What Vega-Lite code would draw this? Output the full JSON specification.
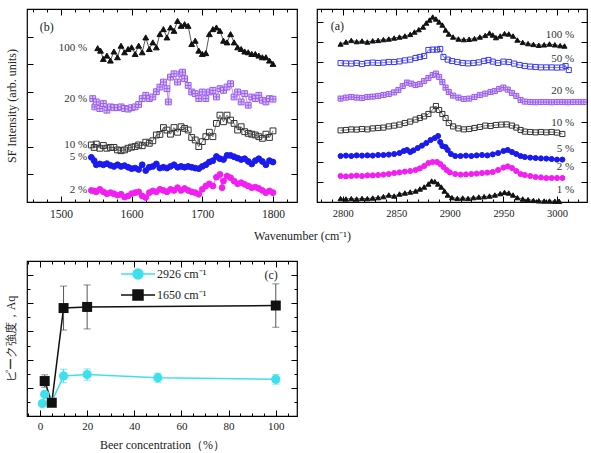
{
"$schema":"https://vega.github.io/schema/vega-lite/v6.json",
"padding":{"left":3,"top":7,"right":3,"bottom":5},
"background":"white",
"config":{"view":{"stroke":"black","strokeWidth":1.2},"font":"Liberation Serif",
"axis":{"domain":false,"grid":false,"tickColor":"black","tickWidth":1,"labelFont":"Liberation Serif","titleFont":"Liberation Serif","labelColor":"#222","titleColor":"#222","titleFontWeight":"normal","labelFontSize":11,"titleFontSize":12,"labelOverlap":false},
"text":{"font":"Liberation Serif","color":"#333","fontSize":11},
"legend":{"labelFont":"Liberation Serif"}},
"columns":2,
"spacing":{"row":59,"column":20},
"bounds":"flush",
"resolve":{"scale":{"color":"independent"},"legend":{"color":"independent"}},
"datasets":{
"specB":[
{"s":"100 %","x":1552,"y":5.58},{"s":"100 %","x":1556,"y":5.49},{"s":"100 %","x":1560,"y":5.19},{"s":"100 %","x":1565,"y":5.31},{"s":"100 %","x":1570,"y":5.13},{"s":"100 %","x":1575,"y":5.46},{"s":"100 %","x":1580,"y":5.25},{"s":"100 %","x":1585,"y":5.67},{"s":"100 %","x":1590,"y":5.43},{"s":"100 %","x":1595,"y":5.55},{"s":"100 %","x":1600,"y":5.61},{"s":"100 %","x":1605,"y":5.37},{"s":"100 %","x":1610,"y":5.67},{"s":"100 %","x":1615,"y":5.43},{"s":"100 %","x":1620,"y":5.97},{"s":"100 %","x":1625,"y":5.55},{"s":"100 %","x":1630,"y":5.79},{"s":"100 %","x":1635,"y":5.61},{"s":"100 %","x":1640,"y":6.09},{"s":"100 %","x":1645,"y":6.27},{"s":"100 %","x":1650,"y":5.97},{"s":"100 %","x":1655,"y":6.33},{"s":"100 %","x":1660,"y":6.21},{"s":"100 %","x":1665,"y":6.57},{"s":"100 %","x":1670,"y":6.39},{"s":"100 %","x":1675,"y":6.45},{"s":"100 %","x":1680,"y":6.39},{"s":"100 %","x":1685,"y":5.73},{"s":"100 %","x":1690,"y":5.85},{"s":"100 %","x":1695,"y":5.49},{"s":"100 %","x":1700,"y":5.37},{"s":"100 %","x":1705,"y":5.4},{"s":"100 %","x":1710,"y":6.09},{"s":"100 %","x":1715,"y":6.27},{"s":"100 %","x":1720,"y":6.33},{"s":"100 %","x":1725,"y":6.21},{"s":"100 %","x":1730,"y":5.85},{"s":"100 %","x":1735,"y":5.79},{"s":"100 %","x":1740,"y":6.09},{"s":"100 %","x":1745,"y":5.79},{"s":"100 %","x":1750,"y":5.61},{"s":"100 %","x":1755,"y":5.55},{"s":"100 %","x":1760,"y":5.46},{"s":"100 %","x":1765,"y":5.43},{"s":"100 %","x":1770,"y":5.37},{"s":"100 %","x":1775,"y":5.37},{"s":"100 %","x":1780,"y":5.31},{"s":"100 %","x":1785,"y":5.25},{"s":"100 %","x":1790,"y":5.25},{"s":"100 %","x":1795,"y":5.13},{"s":"100 %","x":1800,"y":5.01},
{"s":"20 %","x":1545,"y":3.75},{"s":"20 %","x":1548,"y":3.45},{"s":"20 %","x":1550,"y":3.63},{"s":"20 %","x":1555,"y":3.39},{"s":"20 %","x":1560,"y":3.57},{"s":"20 %","x":1565,"y":3.33},{"s":"20 %","x":1570,"y":3.45},{"s":"20 %","x":1575,"y":3.42},{"s":"20 %","x":1580,"y":3.42},{"s":"20 %","x":1585,"y":3.45},{"s":"20 %","x":1590,"y":3.39},{"s":"20 %","x":1595,"y":3.37},{"s":"20 %","x":1600,"y":3.42},{"s":"20 %","x":1605,"y":3.45},{"s":"20 %","x":1610,"y":3.54},{"s":"20 %","x":1615,"y":3.75},{"s":"20 %","x":1620,"y":3.87},{"s":"20 %","x":1625,"y":3.75},{"s":"20 %","x":1630,"y":3.81},{"s":"20 %","x":1635,"y":4.0},{"s":"20 %","x":1640,"y":4.17},{"s":"20 %","x":1645,"y":4.35},{"s":"20 %","x":1650,"y":4.11},{"s":"20 %","x":1652,"y":3.63},{"s":"20 %","x":1655,"y":4.53},{"s":"20 %","x":1660,"y":4.65},{"s":"20 %","x":1665,"y":4.35},{"s":"20 %","x":1670,"y":4.65},{"s":"20 %","x":1672,"y":4.71},{"s":"20 %","x":1675,"y":4.47},{"s":"20 %","x":1680,"y":4.23},{"s":"20 %","x":1685,"y":3.99},{"s":"20 %","x":1690,"y":3.93},{"s":"20 %","x":1695,"y":3.75},{"s":"20 %","x":1700,"y":3.99},{"s":"20 %","x":1705,"y":3.75},{"s":"20 %","x":1710,"y":3.99},{"s":"20 %","x":1715,"y":4.05},{"s":"20 %","x":1720,"y":3.81},{"s":"20 %","x":1725,"y":4.11},{"s":"20 %","x":1730,"y":4.05},{"s":"20 %","x":1735,"y":4.17},{"s":"20 %","x":1740,"y":4.29},{"s":"20 %","x":1745,"y":3.81},{"s":"20 %","x":1750,"y":3.99},{"s":"20 %","x":1755,"y":3.63},{"s":"20 %","x":1760,"y":3.93},{"s":"20 %","x":1765,"y":3.51},{"s":"20 %","x":1770,"y":3.81},{"s":"20 %","x":1775,"y":3.75},{"s":"20 %","x":1780,"y":3.87},{"s":"20 %","x":1785,"y":3.69},{"s":"20 %","x":1790,"y":3.63},{"s":"20 %","x":1795,"y":3.75},{"s":"20 %","x":1800,"y":3.73},
{"s":"10 %","x":1543,"y":2.07},{"s":"10 %","x":1547,"y":1.98},{"s":"10 %","x":1550,"y":2.1},{"s":"10 %","x":1555,"y":1.95},{"s":"10 %","x":1560,"y":2.05},{"s":"10 %","x":1565,"y":1.95},{"s":"10 %","x":1570,"y":1.98},{"s":"10 %","x":1575,"y":1.98},{"s":"10 %","x":1580,"y":1.89},{"s":"10 %","x":1585,"y":1.86},{"s":"10 %","x":1590,"y":1.89},{"s":"10 %","x":1595,"y":1.95},{"s":"10 %","x":1600,"y":1.99},{"s":"10 %","x":1605,"y":2.01},{"s":"10 %","x":1610,"y":2.07},{"s":"10 %","x":1615,"y":2.04},{"s":"10 %","x":1620,"y":2.17},{"s":"10 %","x":1625,"y":2.13},{"s":"10 %","x":1630,"y":2.22},{"s":"10 %","x":1635,"y":2.43},{"s":"10 %","x":1640,"y":2.45},{"s":"10 %","x":1645,"y":2.7},{"s":"10 %","x":1650,"y":2.61},{"s":"10 %","x":1655,"y":2.46},{"s":"10 %","x":1660,"y":2.7},{"s":"10 %","x":1665,"y":2.53},{"s":"10 %","x":1670,"y":2.73},{"s":"10 %","x":1675,"y":2.67},{"s":"10 %","x":1680,"y":2.61},{"s":"10 %","x":1685,"y":2.34},{"s":"10 %","x":1690,"y":2.25},{"s":"10 %","x":1695,"y":2.01},{"s":"10 %","x":1700,"y":2.19},{"s":"10 %","x":1705,"y":2.37},{"s":"10 %","x":1710,"y":2.53},{"s":"10 %","x":1715,"y":2.37},{"s":"10 %","x":1720,"y":2.85},{"s":"10 %","x":1725,"y":3.15},{"s":"10 %","x":1730,"y":2.91},{"s":"10 %","x":1735,"y":3.15},{"s":"10 %","x":1740,"y":2.97},{"s":"10 %","x":1745,"y":2.85},{"s":"10 %","x":1750,"y":2.61},{"s":"10 %","x":1755,"y":2.73},{"s":"10 %","x":1760,"y":2.55},{"s":"10 %","x":1765,"y":2.49},{"s":"10 %","x":1770,"y":2.46},{"s":"10 %","x":1775,"y":2.43},{"s":"10 %","x":1780,"y":2.37},{"s":"10 %","x":1785,"y":2.31},{"s":"10 %","x":1790,"y":2.46},{"s":"10 %","x":1795,"y":2.34},{"s":"10 %","x":1800,"y":2.58},
{"s":"5 %","x":1543,"y":1.62},{"s":"5 %","x":1547,"y":1.5},{"s":"5 %","x":1550,"y":1.35},{"s":"5 %","x":1555,"y":1.38},{"s":"5 %","x":1560,"y":1.35},{"s":"5 %","x":1565,"y":1.39},{"s":"5 %","x":1570,"y":1.33},{"s":"5 %","x":1575,"y":1.29},{"s":"5 %","x":1580,"y":1.35},{"s":"5 %","x":1585,"y":1.29},{"s":"5 %","x":1590,"y":1.32},{"s":"5 %","x":1595,"y":1.26},{"s":"5 %","x":1600,"y":1.21},{"s":"5 %","x":1605,"y":1.23},{"s":"5 %","x":1610,"y":1.18},{"s":"5 %","x":1615,"y":1.35},{"s":"5 %","x":1620,"y":1.14},{"s":"5 %","x":1625,"y":1.26},{"s":"5 %","x":1630,"y":1.29},{"s":"5 %","x":1635,"y":1.38},{"s":"5 %","x":1640,"y":1.23},{"s":"5 %","x":1645,"y":1.26},{"s":"5 %","x":1650,"y":1.23},{"s":"5 %","x":1655,"y":1.29},{"s":"5 %","x":1660,"y":1.35},{"s":"5 %","x":1665,"y":1.26},{"s":"5 %","x":1670,"y":1.29},{"s":"5 %","x":1675,"y":1.26},{"s":"5 %","x":1680,"y":1.29},{"s":"5 %","x":1685,"y":1.26},{"s":"5 %","x":1690,"y":1.23},{"s":"5 %","x":1695,"y":1.21},{"s":"5 %","x":1700,"y":1.29},{"s":"5 %","x":1705,"y":1.35},{"s":"5 %","x":1710,"y":1.45},{"s":"5 %","x":1715,"y":1.5},{"s":"5 %","x":1720,"y":1.65},{"s":"5 %","x":1725,"y":1.57},{"s":"5 %","x":1730,"y":1.54},{"s":"5 %","x":1735,"y":1.69},{"s":"5 %","x":1740,"y":1.69},{"s":"5 %","x":1745,"y":1.64},{"s":"5 %","x":1750,"y":1.59},{"s":"5 %","x":1755,"y":1.54},{"s":"5 %","x":1760,"y":1.57},{"s":"5 %","x":1765,"y":1.47},{"s":"5 %","x":1770,"y":1.38},{"s":"5 %","x":1775,"y":1.5},{"s":"5 %","x":1780,"y":1.57},{"s":"5 %","x":1785,"y":1.47},{"s":"5 %","x":1790,"y":1.35},{"s":"5 %","x":1795,"y":1.5},{"s":"5 %","x":1800,"y":1.45},
{"s":"2 %","x":1543,"y":0.42},{"s":"2 %","x":1547,"y":0.4},{"s":"2 %","x":1550,"y":0.37},{"s":"2 %","x":1555,"y":0.46},{"s":"2 %","x":1560,"y":0.37},{"s":"2 %","x":1565,"y":0.3},{"s":"2 %","x":1570,"y":0.34},{"s":"2 %","x":1575,"y":0.3},{"s":"2 %","x":1580,"y":0.25},{"s":"2 %","x":1585,"y":0.28},{"s":"2 %","x":1590,"y":0.18},{"s":"2 %","x":1595,"y":0.22},{"s":"2 %","x":1600,"y":0.3},{"s":"2 %","x":1605,"y":0.34},{"s":"2 %","x":1610,"y":0.37},{"s":"2 %","x":1615,"y":0.22},{"s":"2 %","x":1620,"y":0.16},{"s":"2 %","x":1625,"y":0.34},{"s":"2 %","x":1630,"y":0.4},{"s":"2 %","x":1635,"y":0.37},{"s":"2 %","x":1640,"y":0.46},{"s":"2 %","x":1645,"y":0.42},{"s":"2 %","x":1650,"y":0.37},{"s":"2 %","x":1655,"y":0.46},{"s":"2 %","x":1660,"y":0.42},{"s":"2 %","x":1665,"y":0.52},{"s":"2 %","x":1670,"y":0.42},{"s":"2 %","x":1675,"y":0.49},{"s":"2 %","x":1680,"y":0.42},{"s":"2 %","x":1685,"y":0.37},{"s":"2 %","x":1690,"y":0.34},{"s":"2 %","x":1695,"y":0.28},{"s":"2 %","x":1700,"y":0.46},{"s":"2 %","x":1705,"y":0.58},{"s":"2 %","x":1710,"y":0.66},{"s":"2 %","x":1715,"y":0.58},{"s":"2 %","x":1720,"y":0.9},{"s":"2 %","x":1725,"y":1.0},{"s":"2 %","x":1728,"y":0.52},{"s":"2 %","x":1730,"y":0.76},{"s":"2 %","x":1735,"y":0.94},{"s":"2 %","x":1740,"y":0.88},{"s":"2 %","x":1745,"y":0.76},{"s":"2 %","x":1750,"y":0.66},{"s":"2 %","x":1755,"y":0.7},{"s":"2 %","x":1760,"y":0.64},{"s":"2 %","x":1765,"y":0.58},{"s":"2 %","x":1770,"y":0.52},{"s":"2 %","x":1775,"y":0.54},{"s":"2 %","x":1780,"y":0.49},{"s":"2 %","x":1785,"y":0.42},{"s":"2 %","x":1790,"y":0.34},{"s":"2 %","x":1795,"y":0.4},{"s":"2 %","x":1800,"y":0.34}
],
"specA":[
{"s":"100 %","x":2798,"y":7.9},{"s":"100 %","x":2803,"y":8.0},{"s":"100 %","x":2808,"y":8.08},{"s":"100 %","x":2813,"y":8.02},{"s":"100 %","x":2818,"y":8.05},{"s":"100 %","x":2823,"y":8.0},{"s":"100 %","x":2828,"y":8.06},{"s":"100 %","x":2833,"y":8.08},{"s":"100 %","x":2838,"y":8.12},{"s":"100 %","x":2843,"y":8.15},{"s":"100 %","x":2848,"y":8.2},{"s":"100 %","x":2853,"y":8.25},{"s":"100 %","x":2858,"y":8.3},{"s":"100 %","x":2863,"y":8.38},{"s":"100 %","x":2867,"y":8.5},{"s":"100 %","x":2871,"y":8.62},{"s":"100 %","x":2875,"y":8.75},{"s":"100 %","x":2878,"y":8.95},{"s":"100 %","x":2881,"y":9.1},{"s":"100 %","x":2884,"y":9.25},{"s":"100 %","x":2887,"y":9.15},{"s":"100 %","x":2890,"y":9.0},{"s":"100 %","x":2893,"y":8.85},{"s":"100 %","x":2896,"y":8.6},{"s":"100 %","x":2899,"y":8.4},{"s":"100 %","x":2903,"y":8.25},{"s":"100 %","x":2908,"y":8.15},{"s":"100 %","x":2913,"y":8.12},{"s":"100 %","x":2918,"y":8.14},{"s":"100 %","x":2923,"y":8.17},{"s":"100 %","x":2928,"y":8.25},{"s":"100 %","x":2933,"y":8.33},{"s":"100 %","x":2937,"y":8.45},{"s":"100 %","x":2940,"y":8.35},{"s":"100 %","x":2943,"y":8.22},{"s":"100 %","x":2947,"y":8.3},{"s":"100 %","x":2951,"y":8.42},{"s":"100 %","x":2955,"y":8.4},{"s":"100 %","x":2959,"y":8.3},{"s":"100 %","x":2963,"y":8.1},{"s":"100 %","x":2968,"y":7.98},{"s":"100 %","x":2973,"y":7.92},{"s":"100 %","x":2978,"y":7.88},{"s":"100 %","x":2983,"y":7.84},{"s":"100 %","x":2988,"y":7.86},{"s":"100 %","x":2993,"y":7.9},{"s":"100 %","x":2998,"y":7.86},{"s":"100 %","x":3003,"y":7.82},{"s":"100 %","x":3007,"y":7.8},
{"s":"50 %","x":2798,"y":6.95},{"s":"50 %","x":2803,"y":6.93},{"s":"50 %","x":2808,"y":6.92},{"s":"50 %","x":2813,"y":6.95},{"s":"50 %","x":2818,"y":6.9},{"s":"50 %","x":2823,"y":6.95},{"s":"50 %","x":2828,"y":6.97},{"s":"50 %","x":2833,"y":6.95},{"s":"50 %","x":2838,"y":6.97},{"s":"50 %","x":2843,"y":7.0},{"s":"50 %","x":2848,"y":7.0},{"s":"50 %","x":2853,"y":7.03},{"s":"50 %","x":2858,"y":7.08},{"s":"50 %","x":2863,"y":7.12},{"s":"50 %","x":2868,"y":7.2},{"s":"50 %","x":2872,"y":7.25},{"s":"50 %","x":2876,"y":7.3},{"s":"50 %","x":2880,"y":7.6},{"s":"50 %","x":2884,"y":7.62},{"s":"50 %","x":2888,"y":7.62},{"s":"50 %","x":2891,"y":7.65},{"s":"50 %","x":2894,"y":7.25},{"s":"50 %","x":2898,"y":7.12},{"s":"50 %","x":2902,"y":7.05},{"s":"50 %","x":2907,"y":7.0},{"s":"50 %","x":2912,"y":6.95},{"s":"50 %","x":2917,"y":6.93},{"s":"50 %","x":2922,"y":6.95},{"s":"50 %","x":2927,"y":6.98},{"s":"50 %","x":2932,"y":7.05},{"s":"50 %","x":2936,"y":7.1},{"s":"50 %","x":2940,"y":7.02},{"s":"50 %","x":2945,"y":6.95},{"s":"50 %","x":2950,"y":7.02},{"s":"50 %","x":2955,"y":7.0},{"s":"50 %","x":2960,"y":6.92},{"s":"50 %","x":2965,"y":6.85},{"s":"50 %","x":2970,"y":6.8},{"s":"50 %","x":2975,"y":6.77},{"s":"50 %","x":2980,"y":6.75},{"s":"50 %","x":2985,"y":6.73},{"s":"50 %","x":2990,"y":6.73},{"s":"50 %","x":2995,"y":6.73},{"s":"50 %","x":3000,"y":6.72},{"s":"50 %","x":3005,"y":6.73},{"s":"50 %","x":3008,"y":6.8},{"s":"50 %","x":3011,"y":6.6},
{"s":"20 %","x":2798,"y":5.17},{"s":"20 %","x":2803,"y":5.22},{"s":"20 %","x":2808,"y":5.25},{"s":"20 %","x":2813,"y":5.22},{"s":"20 %","x":2818,"y":5.2},{"s":"20 %","x":2823,"y":5.25},{"s":"20 %","x":2828,"y":5.27},{"s":"20 %","x":2833,"y":5.3},{"s":"20 %","x":2838,"y":5.35},{"s":"20 %","x":2843,"y":5.4},{"s":"20 %","x":2848,"y":5.48},{"s":"20 %","x":2852,"y":5.6},{"s":"20 %","x":2856,"y":5.8},{"s":"20 %","x":2860,"y":5.97},{"s":"20 %","x":2864,"y":5.92},{"s":"20 %","x":2868,"y":5.85},{"s":"20 %","x":2872,"y":5.9},{"s":"20 %","x":2876,"y":6.05},{"s":"20 %","x":2880,"y":6.2},{"s":"20 %","x":2884,"y":6.35},{"s":"20 %","x":2887,"y":6.42},{"s":"20 %","x":2890,"y":6.25},{"s":"20 %","x":2893,"y":6.0},{"s":"20 %","x":2896,"y":5.72},{"s":"20 %","x":2899,"y":5.5},{"s":"20 %","x":2903,"y":5.32},{"s":"20 %","x":2908,"y":5.22},{"s":"20 %","x":2913,"y":5.15},{"s":"20 %","x":2918,"y":5.17},{"s":"20 %","x":2923,"y":5.25},{"s":"20 %","x":2928,"y":5.35},{"s":"20 %","x":2933,"y":5.42},{"s":"20 %","x":2938,"y":5.5},{"s":"20 %","x":2942,"y":5.55},{"s":"20 %","x":2946,"y":5.65},{"s":"20 %","x":2950,"y":5.72},{"s":"20 %","x":2954,"y":5.62},{"s":"20 %","x":2958,"y":5.45},{"s":"20 %","x":2962,"y":5.3},{"s":"20 %","x":2966,"y":5.1},{"s":"20 %","x":2970,"y":5.02},{"s":"20 %","x":2975,"y":5.0},{"s":"20 %","x":2980,"y":4.99},{"s":"20 %","x":2985,"y":5.0},{"s":"20 %","x":2990,"y":5.0},{"s":"20 %","x":2995,"y":4.99},{"s":"20 %","x":3000,"y":5.0},{"s":"20 %","x":3005,"y":5.0},{"s":"20 %","x":3010,"y":4.99},{"s":"20 %","x":3015,"y":5.0},{"s":"20 %","x":3020,"y":5.0},{"s":"20 %","x":3025,"y":5.0},
{"s":"10 %","x":2798,"y":3.58},{"s":"10 %","x":2803,"y":3.6},{"s":"10 %","x":2808,"y":3.63},{"s":"10 %","x":2813,"y":3.62},{"s":"10 %","x":2818,"y":3.65},{"s":"10 %","x":2823,"y":3.63},{"s":"10 %","x":2828,"y":3.68},{"s":"10 %","x":2833,"y":3.7},{"s":"10 %","x":2838,"y":3.72},{"s":"10 %","x":2843,"y":3.78},{"s":"10 %","x":2848,"y":3.82},{"s":"10 %","x":2853,"y":3.87},{"s":"10 %","x":2858,"y":3.95},{"s":"10 %","x":2863,"y":4.02},{"s":"10 %","x":2868,"y":4.12},{"s":"10 %","x":2872,"y":4.2},{"s":"10 %","x":2876,"y":4.28},{"s":"10 %","x":2880,"y":4.4},{"s":"10 %","x":2884,"y":4.62},{"s":"10 %","x":2887,"y":4.8},{"s":"10 %","x":2890,"y":4.6},{"s":"10 %","x":2893,"y":4.4},{"s":"10 %","x":2896,"y":4.2},{"s":"10 %","x":2899,"y":3.95},{"s":"10 %","x":2903,"y":3.78},{"s":"10 %","x":2908,"y":3.68},{"s":"10 %","x":2913,"y":3.63},{"s":"10 %","x":2918,"y":3.65},{"s":"10 %","x":2923,"y":3.7},{"s":"10 %","x":2928,"y":3.75},{"s":"10 %","x":2933,"y":3.82},{"s":"10 %","x":2938,"y":3.8},{"s":"10 %","x":2943,"y":3.85},{"s":"10 %","x":2948,"y":3.87},{"s":"10 %","x":2953,"y":3.88},{"s":"10 %","x":2958,"y":3.82},{"s":"10 %","x":2962,"y":3.72},{"s":"10 %","x":2966,"y":3.6},{"s":"10 %","x":2970,"y":3.52},{"s":"10 %","x":2975,"y":3.5},{"s":"10 %","x":2980,"y":3.48},{"s":"10 %","x":2985,"y":3.5},{"s":"10 %","x":2990,"y":3.48},{"s":"10 %","x":2995,"y":3.5},{"s":"10 %","x":3000,"y":3.47},{"s":"10 %","x":3005,"y":3.4},
{"s":"5 %","x":2798,"y":2.3},{"s":"5 %","x":2803,"y":2.32},{"s":"5 %","x":2808,"y":2.3},{"s":"5 %","x":2813,"y":2.33},{"s":"5 %","x":2818,"y":2.32},{"s":"5 %","x":2823,"y":2.33},{"s":"5 %","x":2828,"y":2.32},{"s":"5 %","x":2833,"y":2.35},{"s":"5 %","x":2838,"y":2.35},{"s":"5 %","x":2843,"y":2.37},{"s":"5 %","x":2848,"y":2.4},{"s":"5 %","x":2853,"y":2.45},{"s":"5 %","x":2857,"y":2.55},{"s":"5 %","x":2860,"y":2.6},{"s":"5 %","x":2863,"y":2.5},{"s":"5 %","x":2866,"y":2.58},{"s":"5 %","x":2870,"y":2.7},{"s":"5 %","x":2874,"y":2.82},{"s":"5 %","x":2878,"y":2.95},{"s":"5 %","x":2882,"y":3.1},{"s":"5 %","x":2886,"y":3.2},{"s":"5 %","x":2889,"y":3.3},{"s":"5 %","x":2891,"y":3.0},{"s":"5 %","x":2893,"y":2.8},{"s":"5 %","x":2896,"y":2.75},{"s":"5 %","x":2898,"y":2.6},{"s":"5 %","x":2901,"y":2.4},{"s":"5 %","x":2905,"y":2.3},{"s":"5 %","x":2910,"y":2.3},{"s":"5 %","x":2915,"y":2.32},{"s":"5 %","x":2920,"y":2.3},{"s":"5 %","x":2925,"y":2.33},{"s":"5 %","x":2930,"y":2.35},{"s":"5 %","x":2935,"y":2.33},{"s":"5 %","x":2940,"y":2.38},{"s":"5 %","x":2945,"y":2.45},{"s":"5 %","x":2950,"y":2.55},{"s":"5 %","x":2954,"y":2.6},{"s":"5 %","x":2958,"y":2.5},{"s":"5 %","x":2962,"y":2.4},{"s":"5 %","x":2966,"y":2.3},{"s":"5 %","x":2970,"y":2.25},{"s":"5 %","x":2975,"y":2.22},{"s":"5 %","x":2980,"y":2.2},{"s":"5 %","x":2985,"y":2.18},{"s":"5 %","x":2990,"y":2.17},{"s":"5 %","x":2995,"y":2.15},{"s":"5 %","x":3000,"y":2.12},{"s":"5 %","x":3005,"y":2.12},
{"s":"2 %","x":2798,"y":1.3},{"s":"2 %","x":2803,"y":1.28},{"s":"2 %","x":2808,"y":1.3},{"s":"2 %","x":2813,"y":1.32},{"s":"2 %","x":2818,"y":1.3},{"s":"2 %","x":2823,"y":1.33},{"s":"2 %","x":2828,"y":1.33},{"s":"2 %","x":2833,"y":1.35},{"s":"2 %","x":2838,"y":1.37},{"s":"2 %","x":2843,"y":1.4},{"s":"2 %","x":2848,"y":1.45},{"s":"2 %","x":2853,"y":1.48},{"s":"2 %","x":2858,"y":1.52},{"s":"2 %","x":2863,"y":1.55},{"s":"2 %","x":2868,"y":1.6},{"s":"2 %","x":2872,"y":1.68},{"s":"2 %","x":2876,"y":1.8},{"s":"2 %","x":2880,"y":1.95},{"s":"2 %","x":2884,"y":2.0},{"s":"2 %","x":2888,"y":2.0},{"s":"2 %","x":2891,"y":1.9},{"s":"2 %","x":2894,"y":1.75},{"s":"2 %","x":2897,"y":1.6},{"s":"2 %","x":2900,"y":1.48},{"s":"2 %","x":2905,"y":1.4},{"s":"2 %","x":2910,"y":1.37},{"s":"2 %","x":2915,"y":1.38},{"s":"2 %","x":2920,"y":1.4},{"s":"2 %","x":2925,"y":1.42},{"s":"2 %","x":2930,"y":1.45},{"s":"2 %","x":2935,"y":1.47},{"s":"2 %","x":2940,"y":1.5},{"s":"2 %","x":2945,"y":1.6},{"s":"2 %","x":2950,"y":1.72},{"s":"2 %","x":2954,"y":1.78},{"s":"2 %","x":2958,"y":1.7},{"s":"2 %","x":2962,"y":1.55},{"s":"2 %","x":2966,"y":1.4},{"s":"2 %","x":2970,"y":1.35},{"s":"2 %","x":2975,"y":1.3},{"s":"2 %","x":2980,"y":1.25},{"s":"2 %","x":2985,"y":1.23},{"s":"2 %","x":2990,"y":1.2},{"s":"2 %","x":2995,"y":1.2},{"s":"2 %","x":3000,"y":1.2},{"s":"2 %","x":3005,"y":1.2},
{"s":"1 %","x":2798,"y":0.17},{"s":"1 %","x":2803,"y":0.15},{"s":"1 %","x":2808,"y":0.17},{"s":"1 %","x":2813,"y":0.15},{"s":"1 %","x":2818,"y":0.18},{"s":"1 %","x":2823,"y":0.17},{"s":"1 %","x":2828,"y":0.2},{"s":"1 %","x":2833,"y":0.22},{"s":"1 %","x":2838,"y":0.27},{"s":"1 %","x":2843,"y":0.35},{"s":"1 %","x":2848,"y":0.3},{"s":"1 %","x":2853,"y":0.4},{"s":"1 %","x":2858,"y":0.45},{"s":"1 %","x":2863,"y":0.5},{"s":"1 %","x":2868,"y":0.55},{"s":"1 %","x":2872,"y":0.65},{"s":"1 %","x":2876,"y":0.75},{"s":"1 %","x":2880,"y":0.9},{"s":"1 %","x":2883,"y":1.05},{"s":"1 %","x":2886,"y":1.02},{"s":"1 %","x":2889,"y":0.9},{"s":"1 %","x":2892,"y":0.75},{"s":"1 %","x":2895,"y":0.55},{"s":"1 %","x":2898,"y":0.35},{"s":"1 %","x":2902,"y":0.22},{"s":"1 %","x":2907,"y":0.18},{"s":"1 %","x":2912,"y":0.2},{"s":"1 %","x":2917,"y":0.18},{"s":"1 %","x":2922,"y":0.22},{"s":"1 %","x":2927,"y":0.25},{"s":"1 %","x":2932,"y":0.27},{"s":"1 %","x":2937,"y":0.3},{"s":"1 %","x":2942,"y":0.35},{"s":"1 %","x":2947,"y":0.42},{"s":"1 %","x":2951,"y":0.48},{"s":"1 %","x":2955,"y":0.45},{"s":"1 %","x":2959,"y":0.35},{"s":"1 %","x":2963,"y":0.22},{"s":"1 %","x":2968,"y":0.15},{"s":"1 %","x":2973,"y":0.12},{"s":"1 %","x":2978,"y":0.08},{"s":"1 %","x":2983,"y":0.06},{"s":"1 %","x":2988,"y":0.05},{"s":"1 %","x":2993,"y":0.05},{"s":"1 %","x":2998,"y":0.04},{"s":"1 %","x":3002,"y":0.04}
],
"peaks":[
{"s":"2926 cm⁻¹","c":1,"v":0.44,"lo":0.39,"hi":0.49},
{"s":"2926 cm⁻¹","c":2,"v":0.77,"lo":0.71,"hi":0.83},
{"s":"2926 cm⁻¹","c":5,"v":0.5,"lo":0.44,"hi":0.56},
{"s":"2926 cm⁻¹","c":10,"v":1.42,"lo":1.18,"hi":1.66},
{"s":"2926 cm⁻¹","c":20,"v":1.47,"lo":1.27,"hi":1.67},
{"s":"2926 cm⁻¹","c":50,"v":1.36,"lo":1.2,"hi":1.52},
{"s":"2926 cm⁻¹","c":100,"v":1.3,"lo":1.13,"hi":1.47},
{"s":"1650 cm⁻¹","c":2,"v":1.24,"lo":1.02,"hi":1.46},
{"s":"1650 cm⁻¹","c":5,"v":0.47,"lo":0.4,"hi":0.54},
{"s":"1650 cm⁻¹","c":10,"v":3.83,"lo":3.05,"hi":4.61},
{"s":"1650 cm⁻¹","c":20,"v":3.87,"lo":3.09,"hi":4.65},
{"s":"1650 cm⁻¹","c":100,"v":3.92,"lo":3.15,"hi":4.69}
]
},
"concat":[
{
"width":270,"height":193,
"data":{"name":"specB"},
"layer":[
{"mark":{"type":"line","strokeWidth":0.7},
"encoding":{
"x":{"field":"x","type":"quantitative","scale":{"domain":[1452,1834],"nice":false,"zero":false},
"axis":{"orient":"bottom","values":[1460,1480,1500,1520,1540,1560,1580,1600,1620,1640,1660,1680,1700,1720,1740,1760,1780,1800,1820],"tickSize":{"condition":{"test":"datum.value % 100 === 0","value":-6},"value":-3},"labelExpr":"datum.value % 100 === 0 ? '' + datum.value : ''","labelPadding":12,"labelFont":"Liberation Serif","labelFontSize":11.5,"title":"Wavenumber (cm⁻¹)","titleFont":"Liberation Serif","titleX":275,"titleY":33,"titleBaseline":"middle","titleAlign":"center","titleAnchor":null}},
"y":{"field":"y","type":"quantitative","scale":{"domain":[0,7],"nice":false,"zero":false},
"axis":{"orient":"left","values":[1,2,3,4,5,6],"tickSize":-6,"labels":false,"title":"SF Intensity (arb. units)","titleFont":"Liberation Serif","titlePadding":8}},
"stroke":{"field":"s","type":"nominal","legend":null,"scale":{"domain":["100 %","50 %","20 %","10 %","5 %","2 %","1 %"],"range":["#111111","#3a3af5","#9a5cf0","#333333","#1a1af0","#f21ef2","#111111"]}}
}},
{"mark":{"type":"point","filled":true,"opacity":1,"strokeWidth":1,"size":34},
"encoding":{
"x":{"field":"x","type":"quantitative","axis":{"orient":"top","values":[1460,1480,1500,1520,1540,1560,1580,1600,1620,1640,1660,1680,1700,1720,1740,1760,1780,1800,1820],"tickSize":{"condition":{"test":"datum.value % 100 === 0","value":-6},"value":-3},"labels":false,"title":null}},
"y":{"field":"y","type":"quantitative","axis":{"orient":"right","values":[1,2,3,4,5,6],"tickSize":-6,"labels":false,"title":null}},
"stroke":{"field":"s","type":"nominal","legend":null,"scale":{"domain":["100 %","50 %","20 %","10 %","5 %","2 %","1 %"],"range":["#111111","#3a3af5","#9a5cf0","#333333","#1a1af0","#f21ef2","#111111"]}},
"fill":{"field":"s","type":"nominal","legend":null,"scale":{"domain":["100 %","50 %","20 %","10 %","5 %","2 %","1 %"],"range":["#111111","transparent","#dcc8fb","transparent","#1a1af0","#f21ef2","#111111"]}},
"shape":{"field":"s","type":"nominal","legend":null,"scale":{"domain":["100 %","50 %","20 %","10 %","5 %","2 %","1 %"],"range":["triangle-up","square","M-1,-1H1V1H-1ZM0,-1V1M-1,0H1","square","circle","circle","triangle-up"]}}
}},
{"transform":[{"aggregate":[{"op":"argmin","field":"x","as":"m"}],"groupby":["s"]}],
"mark":{"type":"text","align":"right","baseline":"middle","fontSize":11},
"encoding":{"x":{"datum":1537,"type":"quantitative","axis":null},"y":{"field":"m.y","type":"quantitative","axis":null},"text":{"field":"s"}}},
{"data":{"values":[{"t":"(b)"}]},
"mark":{"type":"text","align":"center","baseline":"middle","fontSize":12,"color":"#222"},
"encoding":{"x":{"datum":1480,"type":"quantitative","axis":null},"y":{"datum":6.35,"type":"quantitative","axis":null},"text":{"field":"t"}}}
],
"resolve":{"axis":{"x":"independent","y":"independent"}}
},
{
"width":270,"height":193,
"data":{"name":"specA"},
"layer":[
{"mark":{"type":"line","strokeWidth":0.7},
"encoding":{
"x":{"field":"x","type":"quantitative","scale":{"domain":[2776,3028],"nice":false,"zero":false},
"axis":{"orient":"bottom","values":[2780,2790,2800,2810,2820,2830,2840,2850,2860,2870,2880,2890,2900,2910,2920,2930,2940,2950,2960,2970,2980,2990,3000,3010,3020],"tickSize":{"condition":{"test":"datum.value % 50 === 0","value":-6},"value":-3},"labelExpr":"datum.value % 50 === 0 ? '' + datum.value : ''","labelPadding":12,"labelFont":"Liberation Serif","labelFontSize":10.5,"title":null}},
"y":{"field":"y","type":"quantitative","scale":{"domain":[0,9.65],"nice":false,"zero":false},
"axis":{"orient":"left","values":[1,2,3,4,5,6,7,8,9],"tickSize":-6,"labels":false,"title":null}},
"stroke":{"field":"s","type":"nominal","legend":null,"scale":{"domain":["100 %","50 %","20 %","10 %","5 %","2 %","1 %"],"range":["#111111","#3a3af5","#9a5cf0","#333333","#1a1af0","#f21ef2","#111111"]}}
}},
{"mark":{"type":"point","filled":true,"opacity":1,"strokeWidth":1,"size":26},
"encoding":{
"x":{"field":"x","type":"quantitative","axis":{"orient":"top","values":[2780,2790,2800,2810,2820,2830,2840,2850,2860,2870,2880,2890,2900,2910,2920,2930,2940,2950,2960,2970,2980,2990,3000,3010,3020],"tickSize":{"condition":{"test":"datum.value % 50 === 0","value":-6},"value":-3},"labels":false,"title":null}},
"y":{"field":"y","type":"quantitative","axis":{"orient":"right","values":[1,2,3,4,5,6,7,8,9],"tickSize":-6,"labels":false,"title":null}},
"stroke":{"field":"s","type":"nominal","legend":null,"scale":{"domain":["100 %","50 %","20 %","10 %","5 %","2 %","1 %"],"range":["#111111","#3a3af5","#9a5cf0","#333333","#1a1af0","#f21ef2","#111111"]}},
"fill":{"field":"s","type":"nominal","legend":null,"scale":{"domain":["100 %","50 %","20 %","10 %","5 %","2 %","1 %"],"range":["#111111","transparent","#dcc8fb","transparent","#1a1af0","#f21ef2","#111111"]}},
"shape":{"field":"s","type":"nominal","legend":null,"scale":{"domain":["100 %","50 %","20 %","10 %","5 %","2 %","1 %"],"range":["triangle-up","square","M-1,-1H1V1H-1ZM0,-1V1M-1,0H1","square","circle","circle","triangle-up"]}}
}},
{"transform":[{"aggregate":[{"op":"argmax","field":"x","as":"m"}],"groupby":["s"]}],
"mark":{"type":"text","align":"right","baseline":"middle","fontSize":11,"dy":-11},
"encoding":{"x":{"datum":3016,"type":"quantitative","axis":null},"y":{"field":"m.y","type":"quantitative","axis":null},"text":{"field":"s"}}},
{"data":{"values":[{"t":"(a)"}]},
"mark":{"type":"text","align":"center","baseline":"middle","fontSize":12,"color":"#222"},
"encoding":{"x":{"datum":2795,"type":"quantitative","axis":null},"y":{"datum":8.8,"type":"quantitative","axis":null},"text":{"field":"t"}}}
],
"resolve":{"axis":{"x":"independent","y":"independent"}}
},
{
"width":270,"height":155,
"data":{"name":"peaks"},
"layer":[
{"transform":[{"filter":"datum.s === '2926 cm⁻¹'"}],
"mark":{"type":"errorbar","ticks":true,"size":7,"thickness":1,"color":"#3fe0ee"},
"encoding":{"x":{"field":"c","type":"quantitative","axis":null},"y":{"field":"lo","type":"quantitative","axis":null},"y2":{"field":"hi"}}},
{"mark":{"type":"line","strokeWidth":1.5},
"encoding":{
"x":{"field":"c","type":"quantitative","scale":{"domain":[-5.5,109],"nice":false,"zero":false},
"axis":{"orient":"bottom","values":[-5,0,5,10,15,20,25,30,35,40,45,50,55,60,65,70,75,80,85,90,95,100,105],"tickSize":{"condition":{"test":"datum.value % 20 === 0","value":-6},"value":-3},"labelExpr":"datum.value % 20 === 0 ? '' + datum.value : ''","labelPadding":10,"labelFont":"Liberation Serif","labelFontSize":11,"title":"Beer concentration（%）","titleFont":"Liberation Serif","titlePadding":5}},
"y":{"field":"v","type":"quantitative","scale":{"domain":[0,5.5],"nice":false,"zero":false},
"axis":{"orient":"left","values":[0.5,1,1.5,2,2.5,3,3.5,4,4.5,5],"tickSize":{"condition":{"test":"datum.value % 1 === 0","value":-6},"value":-3},"labels":false,"title":"ピーク強度，Aq","titleFont":"Liberation Serif","titlePadding":9}},
"color":{"field":"s","type":"nominal","scale":{"domain":["2926 cm⁻¹","1650 cm⁻¹"],"range":["#3fe0ee","#111111"]},
"legend":{"orient":"none","legendX":105,"legendY":7,"title":null,"labelFont":"Liberation Serif","labelFontSize":12,"labelColor":"#222","symbolSize":100,"symbolStrokeWidth":1.5,"labelOffset":13,"rowPadding":5,
"encode":{"symbols":{"update":{"shape":{"signal":"indexof(datum.label,'2926')>=0 ? 'M-3.4,0H-1M1,0H3.4M1,0A1,1 0 1 1 -1,0A1,1 0 1 1 1,0Z' : 'M-3.4,0H-1M1,0H3.4M-1,-1H1V1H-1Z'"},"fill":{"signal":"indexof(datum.label,'2926')>=0 ? '#3fe0ee' : '#111111'"}}}}}}
}},
{"transform":[{"filter":"datum.s === '1650 cm⁻¹'"}],
"mark":{"type":"errorbar","ticks":true,"size":7,"thickness":1,"color":"#555555"},
"encoding":{"x":{"field":"c","type":"quantitative","axis":null},"y":{"field":"lo","type":"quantitative","axis":null},"y2":{"field":"hi"}}},
{"transform":[{"filter":"datum.s === '2926 cm⁻¹'"}],
"mark":{"type":"point","shape":"circle","filled":true,"size":85,"color":"#3fe0ee","opacity":1},
"encoding":{"x":{"field":"c","type":"quantitative","axis":{"orient":"top","values":[-5,0,5,10,15,20,25,30,35,40,45,50,55,60,65,70,75,80,85,90,95,100,105],"tickSize":{"condition":{"test":"datum.value % 20 === 0","value":-6},"value":-3},"labels":false,"title":null}},
"y":{"field":"v","type":"quantitative","axis":{"orient":"right","values":[0.5,1,1.5,2,2.5,3,3.5,4,4.5,5],"tickSize":{"condition":{"test":"datum.value % 1 === 0","value":-6},"value":-3},"labels":false,"title":null}}}},
{"transform":[{"filter":"datum.s === '1650 cm⁻¹'"}],
"mark":{"type":"point","shape":"square","filled":true,"size":100,"color":"#111111","opacity":1},
"encoding":{"x":{"field":"c","type":"quantitative","axis":null},"y":{"field":"v","type":"quantitative","axis":null}}},
{"data":{"values":[{"t":"(c)"}]},
"mark":{"type":"text","align":"center","baseline":"middle","fontSize":12,"color":"#222"},
"encoding":{"x":{"datum":98,"type":"quantitative","axis":null},"y":{"datum":5.0,"type":"quantitative","axis":null},"text":{"field":"t"}}}
],
"resolve":{"axis":{"x":"independent","y":"independent"}}
}
]
}
